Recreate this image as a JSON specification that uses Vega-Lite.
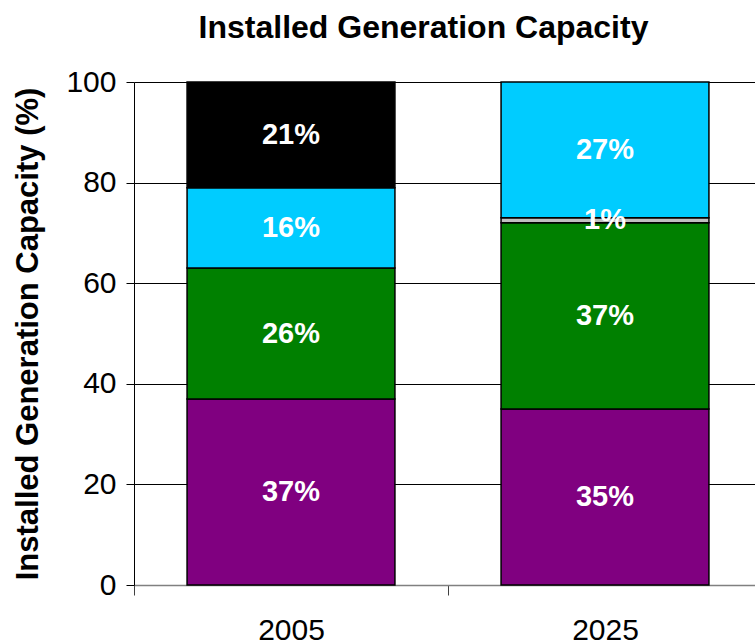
{
  "$schema": "https://vega.github.io/schema/vega-lite/v6.json",
  "width": 621,
  "height": 503,
  "autosize": {"type": "none"},
  "padding": {"left": 134, "top": 82, "right": 0, "bottom": 59},
  "background": "white",
  "config": {"view": {"stroke": null}, "font": "Liberation Sans"},
  "title": {
    "text": "Installed Generation Capacity",
    "font": "Liberation Sans",
    "fontSize": 32,
    "fontWeight": "bold",
    "color": "black",
    "anchor": "middle",
    "dx": -21,
    "offset": 22
  },
  "data": {
    "values": [
      {"year": "2005", "source": "Purple", "rank": 1, "value": 37, "label": "37%"},
      {"year": "2005", "source": "Green", "rank": 2, "value": 26, "label": "26%"},
      {"year": "2005", "source": "Cyan", "rank": 4, "value": 16, "label": "16%"},
      {"year": "2005", "source": "Black", "rank": 5, "value": 21, "label": "21%"},
      {"year": "2025", "source": "Purple", "rank": 1, "value": 35, "label": "35%"},
      {"year": "2025", "source": "Green", "rank": 2, "value": 37, "label": "37%"},
      {"year": "2025", "source": "Gray", "rank": 3, "value": 1, "label": "1%"},
      {"year": "2025", "source": "Cyan", "rank": 4, "value": 27, "label": "27%"}
    ]
  },
  "encoding": {
    "x": {
      "field": "year",
      "type": "nominal",
      "scale": {"range": [0, 628], "paddingInner": 0, "paddingOuter": 0},
      "axis": {
        "title": null,
        "labelAngle": 0,
        "labelFont": "Liberation Sans",
        "labelFontSize": 30,
        "labelColor": "black",
        "labelPadding": 20,
        "tickBand": "extent",
        "tickSize": 10,
        "tickColor": "#404040",
        "tickWidth": 1,
        "domainColor": "#808080",
        "domainWidth": 1.5,
        "grid": false
      }
    },
    "y": {
      "field": "value",
      "type": "quantitative",
      "stack": "zero",
      "scale": {"domain": [0, 100]},
      "axis": {
        "values": [0, 20, 40, 60, 80, 100],
        "title": "Installed Generation Capacity (%)",
        "titleFont": "Liberation Sans",
        "titleFontSize": 31,
        "titleFontWeight": "bold",
        "titleColor": "black",
        "titlePadding": 21,
        "labelFont": "Liberation Sans",
        "labelFontSize": 30,
        "labelColor": "black",
        "labelPadding": 10,
        "tickSize": 8,
        "tickColor": "black",
        "tickWidth": 1,
        "domainColor": "black",
        "domainWidth": 1,
        "grid": true,
        "gridColor": {"condition": {"test": "datum.value === 0", "value": "#808080"}, "value": "black"},
        "gridWidth": 1,
        "gridOpacity": 1
      }
    },
    "order": {"field": "rank", "type": "quantitative"}
  },
  "layer": [
    {
      "mark": {"type": "bar", "width": {"band": 0.662}, "stroke": "black", "strokeWidth": 1.5},
      "encoding": {
        "color": {
          "field": "source",
          "type": "nominal",
          "scale": {
            "domain": ["Purple", "Green", "Gray", "Cyan", "Black"],
            "range": ["#800080", "#008000", "#C0C0C0", "#00CCFF", "#000000"]
          },
          "legend": null
        }
      }
    },
    {
      "mark": {
        "type": "text",
        "color": "white",
        "font": "Liberation Sans",
        "fontSize": 29,
        "fontWeight": "bold",
        "baseline": "middle",
        "align": "center"
      },
      "encoding": {
        "y": {"field": "value", "type": "quantitative", "stack": "zero", "bandPosition": 0.5},
        "detail": {"field": "source"},
        "text": {"field": "label"}
      }
    }
  ]
}
